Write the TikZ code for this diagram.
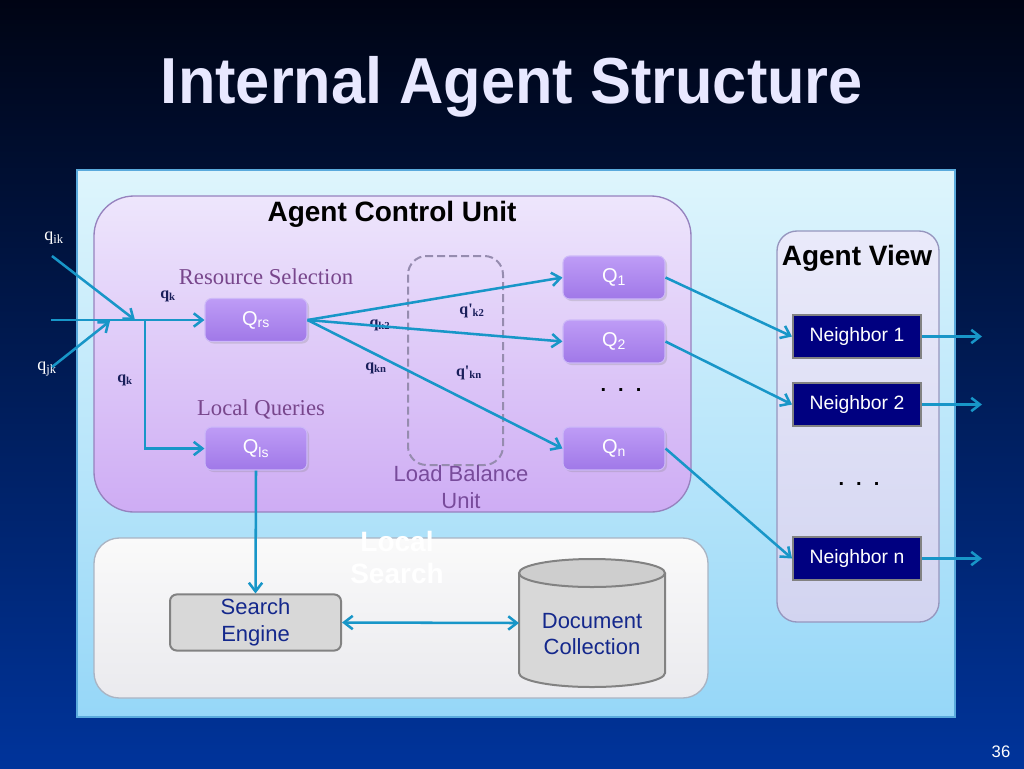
\documentclass[tikz,border=0pt]{standalone}
\usepackage{fontspec}
\setmainfont{Liberation Sans}
\newfontfamily\seriffam{Liberation Serif}
\usetikzlibrary{arrows.meta,shapes.geometric,shadows}
\definecolor{bgtop}{RGB}{0,4,20}
\definecolor{bgmid}{RGB}{10,40,120}
\definecolor{bgbot}{RGB}{0,52,155}
\definecolor{panTop}{RGB}{222,245,252}
\definecolor{panBot}{RGB}{150,215,248}
\definecolor{panBorder}{RGB}{90,170,220}
\definecolor{acuTop}{RGB}{238,230,252}
\definecolor{acuBot}{RGB}{206,172,244}
\definecolor{acuBorder}{RGB}{150,130,190}
\definecolor{avTop}{RGB}{234,234,250}
\definecolor{avBot}{RGB}{210,212,240}
\definecolor{avBorder}{RGB}{150,150,190}
\definecolor{lsTop}{RGB}{250,250,250}
\definecolor{lsBot}{RGB}{234,234,238}
\definecolor{lsBorder}{RGB}{170,180,195}
\definecolor{qTop}{RGB}{190,156,246}
\definecolor{qBot}{RGB}{160,120,232}
\definecolor{qBorder}{RGB}{205,185,248}
\definecolor{navy}{RGB}{0,0,128}
\definecolor{flowc}{RGB}{24,150,200}
\definecolor{purp}{RGB}{120,70,140}
\definecolor{purp2}{RGB}{120,75,155}
\definecolor{qlab}{RGB}{25,30,90}
\definecolor{segray}{RGB}{216,216,216}
\definecolor{edgegray}{RGB}{130,130,130}
\definecolor{setext}{RGB}{20,40,140}
\definecolor{titlec}{RGB}{232,232,255}
\definecolor{lbdash}{RGB}{150,140,175}
\tikzset{
  flow/.style={draw=flowc, line width=1.9pt, -{Straight Barb[length=6.5pt,width=10pt]}},
  qbox/.style={rectangle, rounded corners=5pt, minimum width=76.5pt, minimum height=32.25pt,
    top color=qTop, bottom color=qBot, draw=qBorder, line width=0.8pt, text=white,
    font=\fontsize{15}{18}\selectfont, drop shadow={opacity=0.25, shadow xshift=1.5pt, shadow yshift=-1.5pt}},
  nbox/.style={rectangle, minimum width=96pt, minimum height=32.25pt, fill=navy,
    draw=edgegray, line width=1.5pt, text=white, font=\fontsize{14.5}{17}\selectfont},
  qlabel/.style={text=qlab, font=\seriffam\bfseries\fontsize{12}{14}\selectfont},
  inlabel/.style={text=white, font=\seriffam\fontsize{13.5}{16}\selectfont},
  headlabel/.style={text=black, font=\bfseries\fontsize{21}{25}\selectfont},
  seriflabel/.style={text=purp, font=\seriffam\fontsize{17}{20}\selectfont},
}
\begin{document}
\begin{tikzpicture}[x=0.75pt,y=-0.75pt]
\useasboundingbox (0,0) rectangle (1024,768);
% background
\shade[top color=bgtop, middle color=bgmid, bottom color=bgbot] (0,0) rectangle (1024,768);
% title
\node[text=titlec, font=\bfseries\fontsize{46}{52}\selectfont, yscale=1.06] (title) at (512,87) {Internal Agent Structure};
% main panel
\shade[top color=panTop, bottom color=panBot, draw=panBorder, line width=1pt] (77,170) rectangle (955,717);
% agent control unit
\shade[rounded corners=30pt, top color=acuTop, bottom color=acuBot, draw=acuBorder, line width=1pt] (94,196) rectangle (691,512);
\node[headlabel] (acu) at (392,214) {Agent Control Unit};
% agent view
\shade[rounded corners=15pt, top color=avTop, bottom color=avBot, draw=avBorder, line width=1pt] (777,231) rectangle (939,622);
\node[headlabel] (av) at (857,258) {Agent View};
% local search
\shade[rounded corners=19pt, top color=lsTop, bottom color=lsBot, draw=lsBorder, line width=1pt] (94,538) rectangle (708,698);
\node[text=white, align=center, font=\bfseries\fontsize{21}{24}\selectfont] (ls) at (397,557) {Local\\Search};
% load balance unit
\draw[rounded corners=14pt, draw=lbdash, line width=1.5pt, dash pattern=on 6pt off 3pt] (408,256) rectangle (503,465);
\node[text=purp2, align=center, font=\fontsize{16.5}{20}\selectfont] (lb) at (461,487) {Load Balance\\Unit};
% labels
\node[seriflabel] (rsl) at (266,277) {Resource Selection};
\node[seriflabel] (lql) at (261,409) {Local Queries};
% Q boxes
\node[qbox] (q1) at (614,277.5) {Q\textsubscript{1}};
\node[qbox] (q2) at (614,341.5) {Q\textsubscript{2}};
\node[qbox] (qn) at (614,448.5) {Q\textsubscript{n}};
\node[qbox] (qrs) at (256,320) {Q\textsubscript{rs}};
\node[qbox] (qls) at (256,448.5) {Q\textsubscript{ls}};
\node[text=black, font=\bfseries\fontsize{15}{18}\selectfont] (dots1) at (621,390) {.\hspace{9pt}.\hspace{9pt}.};
% neighbors
\node[nbox] (n1) at (857,336.5) {Neighbor 1};
\node[nbox] (n2) at (857,404.5) {Neighbor 2};
\node[nbox] (nn) at (857,558.5) {Neighbor n};
\node[text=black, font=\bfseries\fontsize{15}{18}\selectfont] (dots2) at (859,484) {.\hspace{9pt}.\hspace{9pt}.};
% search engine
\node[rectangle, rounded corners=5pt, minimum width=128.25pt, minimum height=38.25pt, fill=segray,
  draw=edgegray, line width=1.5pt, text=setext, align=center, font=\fontsize{16.5}{20}\selectfont] (se) at (255.5,622.5) {Search\\Engine};
% document collection cylinder
\fill[segray] (519,573) -- (519,673) arc[start angle=180, end angle=0, x radius=73, y radius=14]
  -- (665,573) arc[start angle=0, end angle=-180, x radius=73, y radius=14] -- cycle;
\draw[edgegray, line width=1.5pt] (519,573) -- (519,673) arc[start angle=180, end angle=0, x radius=73, y radius=14] -- (665,573);
\draw[edgegray, line width=1.5pt, fill={rgb,255:red,206;green,206;blue,206}] (592,573) ellipse [x radius=73, y radius=14];
\node[rectangle, minimum width=109.5pt, minimum height=96.75pt, text=setext, align=center,
  font=\fontsize{16.5}{20}\selectfont] (doc) at (592,634) {Document\\Collection};
\coordinate (docw) at (519,623);
% input coordinates
\coordinate (ik) at (52,256);
\coordinate (jk) at (52,367);
\coordinate (inp) at (51,320);
\coordinate (ikend) at (135,320);
\coordinate (jkend) at (110,321);
\coordinate (split) at (145,320);
\node[inlabel] (lik) at (54,238) {q\textsubscript{ik}};
\node[inlabel] (ljk) at (47,369) {q\textsubscript{jk}};
\node[qlabel] (lk1) at (168,296) {q\textsubscript{k}};
\node[qlabel] (lk2) at (125,380) {q\textsubscript{k}};
\node[qlabel] (lk3) at (380,325) {q\textsubscript{k2}};
\node[qlabel] (lk4) at (376,368) {q\textsubscript{kn}};
\node[qlabel] (lk5) at (472,311) {q'\textsubscript{k2}};
\node[qlabel] (lk6) at (469,373) {q'\textsubscript{kn}};
% arrows
\draw[flow] (ik) -- (ikend);
\draw[flow] (jk) -- (jkend);
\draw[flow] (inp) -- (qrs.west);
\draw[flow] (split) |- (qls.west);
\draw[flow] (qrs.east) -- (q1.west);
\draw[flow] (qrs.east) -- (q2.west);
\draw[flow] (qrs.east) -- (qn.west);
\draw[flow] (q1.east) -- (n1.west);
\draw[flow] (q2.east) -- (n2.west);
\draw[flow] (qn.east) -- (nn.west);
\coordinate (o1) at (982,336.5);
\coordinate (o2) at (982,404.5);
\coordinate (on) at (982,558.5);
\draw[flow] (n1.east) -- (o1);
\draw[flow] (n2.east) -- (o2);
\draw[flow] (nn.east) -- (on);
\draw[flow] (qls.south) -- (se.north);
\draw[flow, {Straight Barb[length=6.5pt,width=10pt]}-{Straight Barb[length=6.5pt,width=10pt]}] (se.east) -- (docw);
% page number
\node[text=white, font=\fontsize{12.5}{15}\selectfont] (pnum) at (1001,752) {36};
\end{tikzpicture}
\end{document}
